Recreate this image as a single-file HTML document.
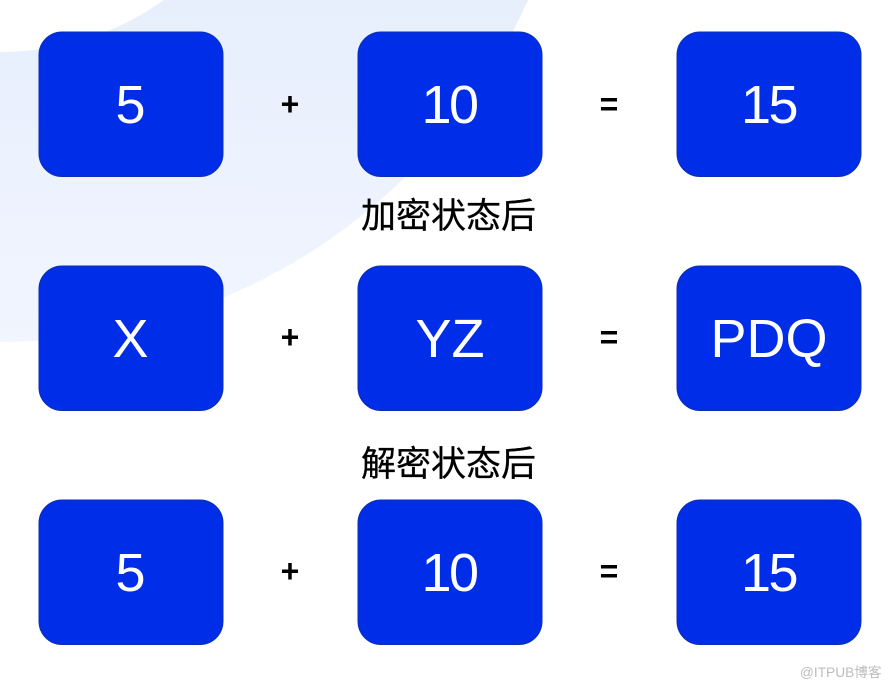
<!DOCTYPE html>
<html lang="zh"><head><meta charset="utf-8"><style>
html,body{margin:0;padding:0;background:#fff}
svg{display:block;filter:blur(.35px)}
text{font-family:"Liberation Sans","Noto Sans CJK SC",sans-serif}
.n{fill:#fff;font-size:54px;text-anchor:middle}
.d{letter-spacing:-2.5px}
.o{fill:#000;font-size:32px;font-weight:bold;text-anchor:middle}
.c{fill:#000;font-size:35px;text-anchor:middle;stroke:#000;stroke-width:.3}
rect{fill:#002ee8;stroke:#0b2fb4;stroke-width:1}
</style></head><body>
<svg width="890" height="687" viewBox="0 0 890 687" xmlns="http://www.w3.org/2000/svg">
<defs><linearGradient id="g" x1="0" y1="0" x2="0" y2="1"><stop offset="0" stop-color="#e7effd"/><stop offset="1" stop-color="#f1f5fe"/></linearGradient></defs>
<path fill="url(#g)" fill-rule="evenodd" d="M528 0A576 576 0 0 1 0 342V52A282 282 0 0 0 164 0Z"/>
<g>
<rect x="39" y="32" width="184" height="144.500" rx="23"/><rect x="358" y="32" width="184" height="144.500" rx="23"/><rect x="677" y="32" width="184" height="144.500" rx="23"/>
<rect x="39" y="266" width="184" height="144.500" rx="23"/><rect x="358" y="266" width="184" height="144.500" rx="23"/><rect x="677" y="266" width="184" height="144.500" rx="23"/>
<rect x="39" y="500" width="184" height="144.500" rx="23"/><rect x="358" y="500" width="184" height="144.500" rx="23"/><rect x="677" y="500" width="184" height="144.500" rx="23"/>
</g>
<text class="n" x="130.500" y="123">5</text><text class="n d" x="449" y="123">10</text><text class="n d" x="768.500" y="123">15</text>
<text class="n" x="130.500" y="357">X</text><text class="n" x="450" y="357">YZ</text><text class="n" x="769" y="357">PDQ</text>
<text class="n" x="130.500" y="591">5</text><text class="n d" x="449" y="591">10</text><text class="n d" x="768.500" y="591">15</text>
<text class="o" x="290" y="115">+</text><text class="o" x="609" y="115">=</text>
<text class="o" x="290" y="348">+</text><text class="o" x="609" y="348">=</text>
<text class="o" x="290" y="582">+</text><text class="o" x="609" y="582">=</text>
<text class="c" x="448.500" y="228">加密状态后</text>
<text class="c" x="448.500" y="476">解密状态后</text>
<text x="800" y="677" font-size="13.700" fill="#bcbcbc">@ITPUB博客</text>
</svg>
</body></html>
